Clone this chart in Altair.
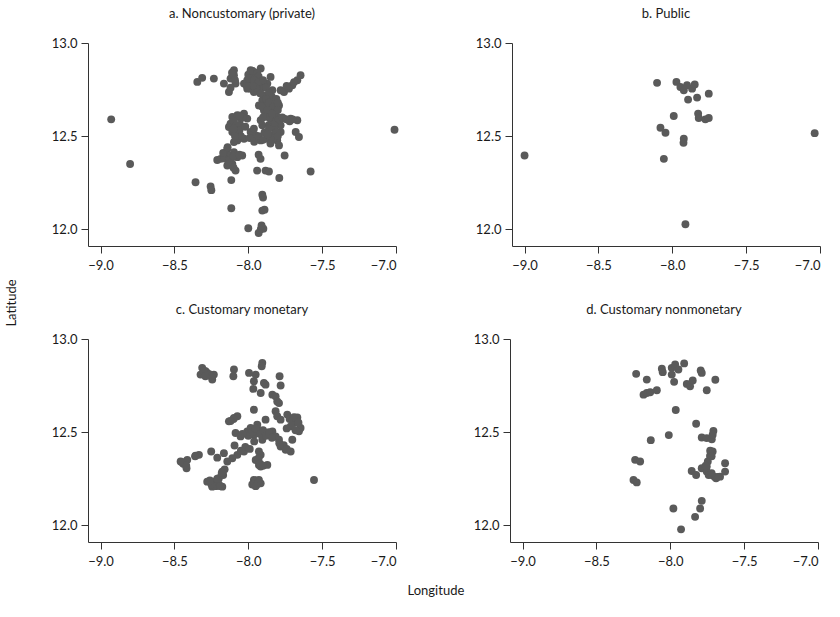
import altair as alt
import pandas as pd

FONT = "Lato"
PT = "#5a5a5a"

# a. Noncustomary (private)
a_lon = [-8.345, -8.312, -8.233, -8.165, -8.131, -8.12, -8.097, -8.108, -8.086, -8.097,
         -7.984, -7.962, -7.916, -7.939, -8.007, -7.984, -7.962, -7.916, -7.894, -7.849,
         -7.871, -7.837, -7.781, -7.758, -7.905, -7.871, -7.826, -7.792, -7.849, -7.928,
         -7.894, -8.029, -8.007, -7.939, -7.894, -7.962,
         -7.702, -7.668, -7.646, -7.725,
         -8.131, -8.108, -8.074, -8.029, -8.007, -8.052, -8.086, -8.074, -8.029, -7.984,
         -7.95, -7.916, -7.871, -7.837, -7.804, -7.792, -7.781, -7.781, -7.758, -7.713,
         -7.668, -7.815, -7.849, -7.883, -7.905, -7.916, -7.962, -8.097, -8.108, -7.679,
         -7.657, -8.12, -8.052, -7.86, -7.82,
         -8.21, -8.187, -8.142, -8.131, -8.097, -8.074, -8.041, -8.142, -8.108, -8.086, -8.12,
         -7.93, -7.917, -7.94, -7.883, -7.86, -7.79, -7.754, -7.578, -8.115, -8.357,
         -8.255, -8.25, -8.115, -7.905, -7.89, -7.905, -7.90, -8.0, -7.915, -7.898, -7.93, -7.91,
         -8.928, -8.80, -7.01,
         -8.0, -7.97, -7.94, -7.93, -7.99, -7.96, -7.93, -7.90, -7.88, -7.92, -7.95, -7.97,
         -8.01, -7.86, -7.84, -7.88, -7.81, -7.86, -7.83, -7.80, -7.91, -7.87, -7.80, -8.11,
         -8.09, -8.12, -7.74, -7.69,
         -8.10, -8.08, -8.06, -8.10, -8.05, -8.02, -8.04, -8.06, -8.09, -7.99, -7.96, -7.93,
         -7.90, -7.89, -7.86, -7.84, -7.82, -7.80, -7.79, -7.77, -7.74, -7.72, -7.70, -7.81,
         -7.83, -7.80, -7.85, -7.86, -7.90, -7.84, -7.87,
         -8.16, -8.13, -8.10, -8.06, -8.13, -8.17, -8.14, -8.10]
a_lat = [12.791, 12.813, 12.809, 12.782, 12.737, 12.809, 12.854, 12.818, 12.782, 12.827,
         12.854, 12.827, 12.863, 12.809, 12.800, 12.755, 12.737, 12.755, 12.719, 12.818,
         12.782, 12.746, 12.746, 12.737, 12.692, 12.665, 12.683, 12.665, 12.647, 12.665,
         12.638, 12.782, 12.755, 12.773, 12.782, 12.791,
         12.773, 12.800, 12.827, 12.755,
         12.549, 12.603, 12.612, 12.621, 12.594, 12.558, 12.513, 12.477, 12.486, 12.522,
         12.504, 12.477, 12.486, 12.504, 12.477, 12.450, 12.522, 12.558, 12.594, 12.594,
         12.585, 12.612, 12.629, 12.612, 12.558, 12.585, 12.540, 12.468, 12.522, 12.522,
         12.495, 12.567, 12.594, 12.56, 12.54,
         12.372, 12.378, 12.432, 12.396, 12.414, 12.387, 12.396, 12.342, 12.351, 12.315, 12.369,
         12.40, 12.378, 12.315, 12.315, 12.31, 12.275, 12.396, 12.31, 12.264, 12.252,
         12.23, 12.21, 12.113, 12.10, 12.105, 12.185, 12.17, 12.005, 12.0, 12.003, 11.98, 12.02,
         12.59, 12.35, 12.534,
         12.83, 12.85, 12.84, 12.82, 12.81, 12.80, 12.79, 12.80, 12.76, 12.73, 12.76, 12.77,
         12.77, 12.73, 12.71, 12.70, 12.70, 12.68, 12.66, 12.68, 12.66, 12.64, 12.64, 12.84,
         12.80, 12.76, 12.77, 12.79,
         12.58, 12.56, 12.53, 12.54, 12.50, 12.55, 12.60, 12.61, 12.50, 12.49, 12.47, 12.50,
         12.48, 12.52, 12.54, 12.58, 12.57, 12.60, 12.59, 12.60, 12.59, 12.58, 12.59, 12.52,
         12.49, 12.50, 12.46, 12.60, 12.60, 12.62, 12.51,
         12.38, 12.37, 12.39, 12.40, 12.35, 12.41, 12.44, 12.33]

# b. Public
b_lon = [-9.0, -7.036, -8.103, -7.972, -7.945, -7.922, -7.900, -7.866, -7.848, -7.893,
         -7.832, -7.753, -7.99, -7.825, -7.821, -7.776, -7.753, -8.08, -8.046, -7.922,
         -7.924, -8.057, -7.911]
b_lat = [12.396, 12.516, 12.786, 12.791, 12.764, 12.746, 12.773, 12.755, 12.777, 12.696,
         12.707, 12.728, 12.608, 12.621, 12.597, 12.590, 12.597, 12.545, 12.518, 12.486,
         12.464, 12.378, 12.027]

# c. Customary monetary
c_lon = [-8.312, -8.278, -8.233, -8.244, -8.323, -8.289, -8.097, -8.101, -7.905, -7.909,
         -7.995, -7.95, -7.962, -7.894, -7.883, -7.966, -7.916, -7.788, -7.781,
         -7.837, -7.815, -7.804, -7.792, -7.962,
         -7.815, -7.804, -7.781, -7.736, -7.668, -7.691, -7.713, -7.657, -7.646, -7.702,
         -7.883, -8.131, -8.097, -8.074,
         -8.086, -8.052, -8.007, -7.984, -7.962, -7.939, -7.916, -7.905, -7.871, -7.837,
         -7.815, -7.792, -7.781, -7.747, -7.713, -8.093,
         -8.029, -8.074, -8.108, -8.142, -8.165, -8.21, -8.251,
         -7.928, -7.916, -7.928, -7.871, -7.916,
         -8.458, -8.413, -8.357, -8.334, -8.418,
         -8.176, -8.199, -8.233, -8.278, -8.244, -8.21, -8.176,
         -7.962, -7.928, -7.95, -7.916, -7.973, -7.555,
         -8.30, -8.26, -8.25, -8.29,
         -8.20, -8.22, -8.25, -8.19, -8.26, -8.21, -8.17, -8.16, -8.18,
         -7.95, -7.94, -7.96, -7.93, -7.95,
         -8.44, -8.45, -8.42, -8.36,
         -8.00, -7.97, -7.95, -7.92, -7.90, -7.88, -7.86, -7.96, -8.04, -7.84, -7.79, -7.76,
         -7.74, -8.02, -8.05, -7.99, -8.10, -8.12, -7.72, -7.70, -7.69, -7.66, -7.68, -7.74,
         -7.95, -7.93, -7.92, -7.90]
c_lat = [12.845, 12.818, 12.809, 12.782, 12.809, 12.827, 12.836, 12.80, 12.872, 12.854,
         12.818, 12.809, 12.773, 12.764, 12.755, 12.732, 12.710, 12.800, 12.75,
         12.701, 12.692, 12.665, 12.656, 12.620,
         12.612, 12.585, 12.567, 12.594, 12.579, 12.549, 12.531, 12.504, 12.522, 12.459,
         12.567, 12.558, 12.576, 12.585,
         12.495, 12.477, 12.504, 12.522, 12.486, 12.540, 12.504, 12.459, 12.495, 12.504,
         12.477, 12.459, 12.423, 12.405, 12.396, 12.428,
         12.396, 12.378, 12.36, 12.342, 12.387, 12.363, 12.396,
         12.396, 12.378, 12.324, 12.324, 12.315,
         12.342, 12.351, 12.374, 12.378, 12.306,
         12.288, 12.252, 12.234, 12.234, 12.207, 12.216, 12.207,
         12.243, 12.243, 12.216, 12.225, 12.219, 12.243,
         12.83, 12.81, 12.80, 12.80,
         12.22, 12.21, 12.22, 12.21, 12.24, 12.25, 12.27, 12.30, 12.28,
         12.24, 12.22, 12.22, 12.23, 12.21,
         12.33, 12.34, 12.32, 12.37,
         12.48, 12.50, 12.52, 12.49, 12.51, 12.48, 12.50, 12.45, 12.49, 12.47, 12.44, 12.43,
         12.41, 12.42, 12.40, 12.41, 12.57, 12.56, 12.57, 12.56, 12.58, 12.55, 12.51, 12.52,
         12.35, 12.36, 12.33, 12.32]

# d. Customary nonmonetary
d_lon = [-8.231, -8.159, -8.181, -8.159, -8.136, -8.091, -8.057, -8.051, -7.99, -7.967,
         -7.945, -7.99, -7.974, -7.906, -7.888, -7.866, -7.848, -7.794, -7.787, -7.753,
         -7.695, -7.963, -7.825, -8.01, -8.132,
         -7.787, -7.753, -7.719, -7.708, -7.713,
         -8.238, -8.204, -8.249, -8.227,
         -7.713, -7.731, -7.746, -7.753, -7.787, -7.753, -7.719, -7.69, -7.663,
         -7.855, -7.825, -7.629, -7.629,
         -7.979, -7.787, -7.798, -7.832, -7.927,
         -7.73, -7.72, -7.76, -7.70, -7.68, -7.74, -7.72]
d_lat = [12.813, 12.782, 12.701, 12.710, 12.714, 12.725, 12.84, 12.822, 12.845, 12.863,
         12.836, 12.809, 12.770, 12.869, 12.759, 12.746, 12.777, 12.831, 12.818, 12.725,
         12.781, 12.619, 12.545, 12.484, 12.457,
         12.471, 12.468, 12.462, 12.507, 12.486,
         12.351, 12.342, 12.243, 12.230,
         12.396, 12.372, 12.342, 12.315, 12.306, 12.288, 12.270, 12.252, 12.261,
         12.291, 12.270, 12.333, 12.288,
         12.09, 12.131, 12.090, 12.045, 11.978,
         12.40, 12.37, 12.32, 12.26, 12.26, 12.27, 12.28]

x_ticks = [-9.0, -8.5, -8.0, -7.5, -7.0]
y_ticks = [12.0, 12.5, 13.0]


def panel(lon, lat, title):
    df = pd.DataFrame({"lon": lon, "lat": lat})
    return (
        alt.Chart(df, title=alt.TitleParams(title, fontSize=13, font=FONT, fontWeight="normal",
                                            color="#1a1a1a", anchor="middle", offset=16))
        .mark_circle(size=62, color=PT, opacity=1)
        .encode(
            x=alt.X("lon:Q", scale=alt.Scale(domain=[-9.085, -7.0], nice=False, zero=False),
                    axis=alt.Axis(values=x_ticks, format=".1f", title=None)),
            y=alt.Y("lat:Q", scale=alt.Scale(domain=[11.91, 13.0], nice=False, zero=False),
                    axis=alt.Axis(values=y_ticks, format=".1f", title=None)),
        )
        .properties(width=308, height=203)
    )


pa = panel(a_lon, a_lat, "a. Noncustomary (private)")
pb = panel(b_lon, b_lat, "b. Public")
pc = panel(c_lon, c_lat, "c. Customary monetary")
pd_ = panel(d_lon, d_lat, "d. Customary nonmonetary")

top = alt.hconcat(pa, pb, spacing=76)
bot = alt.hconcat(pc, pd_, spacing=76)
inner = alt.vconcat(top, bot, spacing=32).properties(
    title=alt.TitleParams("Longitude", orient="bottom", anchor="middle", fontSize=13,
                          font=FONT, fontWeight="normal", color="#1a1a1a", offset=17)
)
chart = (
    alt.hconcat(inner)
    .properties(
        title=alt.TitleParams("Latitude", orient="left", anchor="middle", fontSize=13,
                              font=FONT, fontWeight="normal", color="#1a1a1a", offset=32),
        padding={"left": 6, "top": 8, "right": 5, "bottom": 5},
        background="white",
    )
    .configure_view(stroke=None)
    .configure_axis(
        grid=False,
        domainColor="#333333",
        tickColor="#333333",
        labelColor="#1a1a1a",
        labelFont=FONT,
        labelFontSize=13,
        tickSize=7,
        labelPadding=4,
        domainWidth=1,
        tickWidth=1,
    )
    .configure_axisX(labelPadding=6)
)

chart.save("out.html", embed_options={"renderer": "svg", "actions": False})
